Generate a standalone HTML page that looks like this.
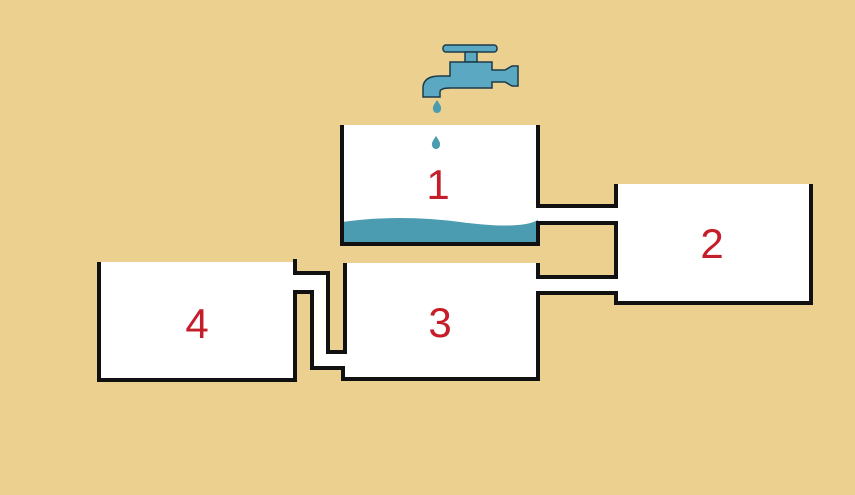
<!DOCTYPE html>
<html><head><style>html,body{margin:0;padding:0;background:#ebd08f}svg{display:block}</style></head>
<body>
<svg width="855" height="495" viewBox="0 0 855 495" xmlns="http://www.w3.org/2000/svg">
<rect width="855" height="495" fill="#ebd08f"/>
<g fill="#fff">
<rect x="342" y="125" width="196" height="119"/>
<rect x="616" y="184" width="195" height="119"/>
<rect x="345" y="263" width="193" height="116"/>
<rect x="99" y="262" width="196" height="118"/>
<rect x="538" y="206" width="80" height="17"/>
<rect x="538" y="277" width="80" height="16"/>
<polygon points="295,273 328,273 328,352 345,352 345,368 312,368 312,292 295,292"/>
</g>
<path d="M342,222 Q400,214 460,222 T538,220 L538,244 L342,244 Z" fill="#4b9cb0"/>
<g fill="none" stroke="#111" stroke-width="4" stroke-linejoin="miter">
<polyline points="342,125 342,244 538,244 538,223 616,223 616,277 538,277 538,263"/>
<polyline points="538,125 538,206 616,206 616,184"/>
<polyline points="811,184 811,303 616,303 616,293 538,293 538,379 343,379 343,368 312,368 312,292 295,292 295,380 99,380 99,262"/>
<polyline points="295,259 295,273 328,273 328,352 345,352 345,263"/>
</g>
<g fill="#c41e2a" font-family="Liberation Sans Narrow, Liberation Sans, sans-serif" font-size="42" text-anchor="middle">
<text x="438" y="199">1</text>
<text x="712" y="258">2</text>
<text x="440" y="337">3</text>
<text x="197" y="338">4</text>
</g>
<g fill="#5aa8c2" stroke="#1c3a48" stroke-width="1.5">
<rect x="443" y="45" width="54" height="7" rx="3"/>
<rect x="465" y="52" width="12" height="10"/>
<path d="M450,62 H492 V70 H505 L512,66 H518 V86 H512 L505,82 H492 V88 H450 Q440,88 440,92 V97 H423 V88 Q423,76 440,76 H450 Z"/>
</g>
<path d="M437,100 Q432,107 433,109 A4,4 0 0 0 441,109 Q442,107 437,100 Z" fill="#4b9cb0"/>
<path d="M436,136 Q431,143 432,145 A4,4 0 0 0 440,145 Q441,143 436,136 Z" fill="#4b9cb0"/>
</svg>
</body></html>
